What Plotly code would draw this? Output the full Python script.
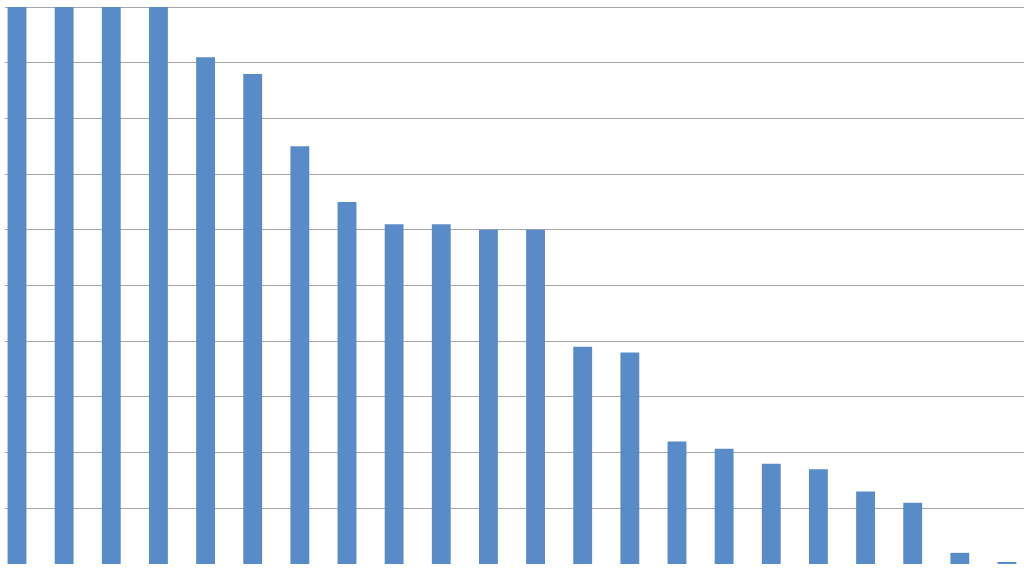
import plotly.graph_objects as go

# 22 categories, no labels shown on the original chart
categories = list(range(22))
values = [10, 10, 10, 10, 9.1, 8.8, 7.5, 6.5, 6.1, 6.1, 6.0, 6.0,
          3.9, 3.8, 2.2, 2.07, 1.8, 1.7, 1.3, 1.1, 0.2, 0.03]
grid_vals = list(range(1, 11))

BAR_COLOR = "#598bc9"
GRID_COLOR = "#a6a6a6"

fig = go.Figure()
fig.add_trace(
    go.Bar(
        x=categories,
        y=values,
        marker=dict(color=BAR_COLOR, line=dict(width=0)),
        width=0.4,
        showlegend=False,
    )
)

fig.update_layout(
    width=1024,
    height=572,
    margin=dict(l=5, r=0, t=6, b=8),
    plot_bgcolor="white",
    paper_bgcolor="white",
    bargap=0.6,
)
fig.update_xaxes(
    range=[-0.2546, 21.361],
    showgrid=False,
    zeroline=False,
    showticklabels=False,
    showline=False,
    ticks="",
)
fig.update_yaxes(
    range=[0, 10.02],
    tickvals=grid_vals,
    showticklabels=False,
    showgrid=True,
    gridcolor=GRID_COLOR,
    gridwidth=1,
    zeroline=False,
    showline=False,
    ticks="",
)

# drop the page's default body margin so the figure sits at the window corner
fig.write_html(
    "out.html",
    config={"displayModeBar": False},
    post_script="document.body.style.margin='0';",
)
